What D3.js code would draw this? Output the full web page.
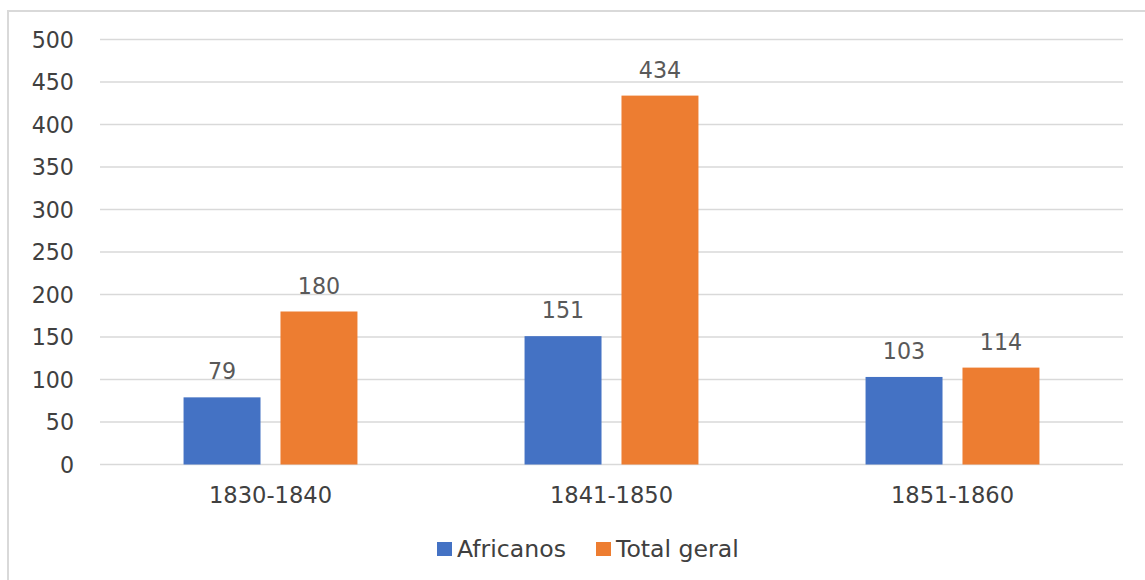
<!DOCTYPE html>
<html>
<head>
<meta charset="utf-8">
<script src="https://cdn.jsdelivr.net/npm/d3@7"></script>
<style>
  html, body { margin: 0; padding: 0; background: #fff; }
  svg { display: block; }
  text { font-family: "DejaVu Sans", sans-serif; }
</style>
</head>
<body>
<svg id="chart" width="1145" height="580"></svg>
<script>
// Periods and series
const periods = ["1830-1840", "1841-1850", "1851-1860"];
const seriesNames = ["Africanos", "Total geral"];
const africanos = [79, 151, 103];
const totalGeral = [180, 434, 114];
const yTicks = [0, 50, 100, 150, 200, 250, 300, 350, 400, 450, 500];
const colors = ["#4472C4", "#ED7D31"];

const seriesValues = [africanos, totalGeral];
const rows = periods.map((p, i) => ({
  period: p,
  values: seriesNames.map((s, j) => ({ series: s, value: seriesValues[j][i], color: colors[j] }))
}));

const svg = d3.select("#chart");
const W = 1145, H = 580;

// frame around the chart area
svg.append("rect")
  .attr("x", 8).attr("y", 11)
  .attr("width", W + 10).attr("height", H + 10)
  .attr("fill", "#fff")
  .attr("stroke", "#d9d9d9").attr("stroke-width", 2);

const plot = { left: 100, right: 1123, top: 39.5, bottom: 464.5 };

const y = d3.scaleLinear().domain([0, 500]).range([plot.bottom, plot.top]);
const x0 = d3.scaleBand().domain(periods)
  .range([plot.left, plot.right])
  .paddingInner(0.49).paddingOuter(0.245);
const x1 = d3.scaleBand().domain(seriesNames)
  .range([0, x0.bandwidth()])
  .paddingInner(0.206).paddingOuter(0);

// horizontal gridlines
svg.append("g").selectAll("line")
  .data(yTicks).join("line")
  .attr("x1", plot.left).attr("x2", plot.right)
  .attr("y1", d => y(d)).attr("y2", d => y(d))
  .attr("stroke", "#d9d9d9").attr("stroke-width", 1.5);

// y tick labels
svg.append("g").selectAll("text")
  .data(yTicks).join("text")
  .attr("x", 74).attr("y", d => y(d) + 8)
  .attr("text-anchor", "end")
  .attr("font-size", 22.2)
  .attr("fill", "#404040")
  .text(d => d);

// bars
const groups = svg.append("g").selectAll("g")
  .data(rows).join("g")
  .attr("transform", d => `translate(${x0(d.period)},0)`);

groups.selectAll("rect")
  .data(d => d.values).join("rect")
  .attr("x", d => x1(d.series))
  .attr("y", d => y(d.value))
  .attr("width", x1.bandwidth())
  .attr("height", d => y(0) - y(d.value))
  .attr("fill", d => d.color);

// value labels
groups.selectAll("text")
  .data(d => d.values).join("text")
  .attr("x", d => x1(d.series) + x1.bandwidth() / 2)
  .attr("y", d => y(d.value) - 18)
  .attr("text-anchor", "middle")
  .attr("font-size", 22.2)
  .attr("fill", "#595959")
  .text(d => d.value);

// category labels
svg.append("g").selectAll("text")
  .data(periods).join("text")
  .attr("x", d => x0(d) + x0.bandwidth() / 2)
  .attr("y", plot.bottom + 38.5)
  .attr("text-anchor", "middle")
  .attr("font-size", 22.6)
  .attr("fill", "#404040")
  .text(d => d);

// legend
const legendX = [437, 596];
const legend = svg.append("g").selectAll("g")
  .data(seriesNames).join("g")
  .attr("transform", (d, i) => `translate(${legendX[i]},542)`);
legend.append("rect")
  .attr("width", 15).attr("height", 14)
  .attr("fill", (d, i) => colors[i]);
legend.append("text")
  .attr("x", 20).attr("y", 15)
  .attr("font-size", 23.6)
  .attr("fill", "#404040")
  .text(d => d);
</script>
</body>
</html>
